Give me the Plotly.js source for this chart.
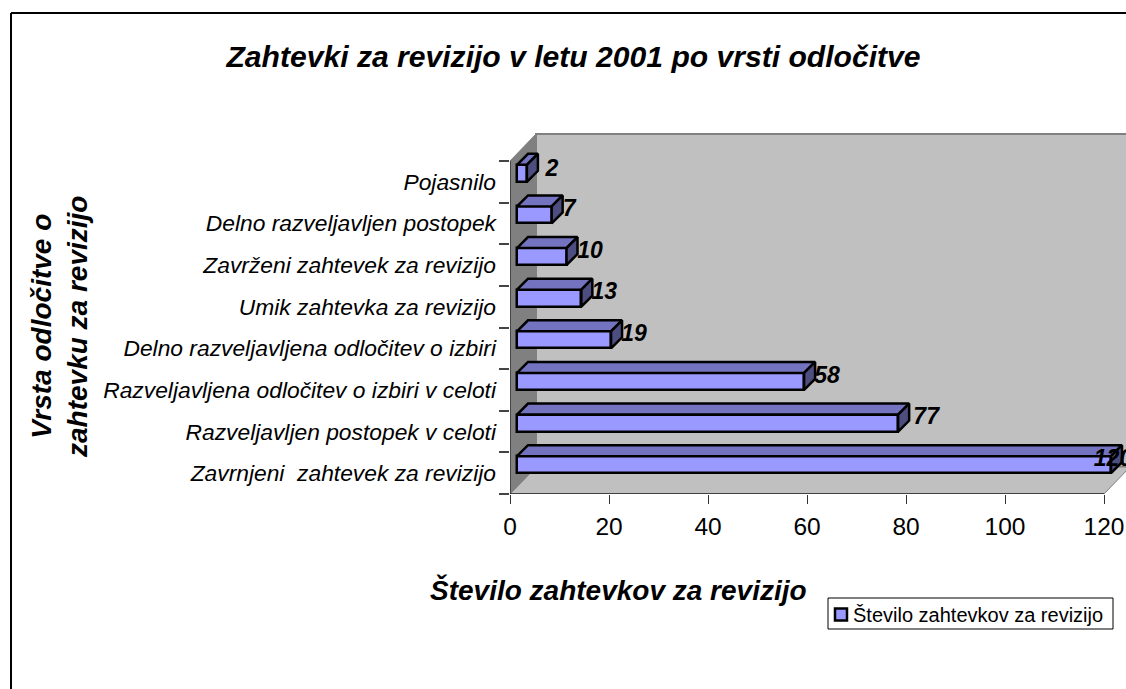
<!DOCTYPE html>
<html><head><meta charset="utf-8">
<script src="https://cdn.plot.ly/plotly-3.0.1.min.js"></script>
<style>html,body{margin:0;padding:0;background:#fff;overflow:hidden}</style>
</head><body><div id="chart" style="width:1126px;height:689px"></div>
<script>
const categories = ["Zavrnjeni\u00A0 zahtevek za revizijo","Razveljavljen postopek v celoti","Razveljavljena odločitev o izbiri v celoti","Delno razveljavljena odločitev o izbiri","Umik zahtevka za revizijo","Zavrženi zahtevek za revizijo","Delno razveljavljen postopek","Pojasnilo"];
const values = [120,77,58,19,13,10,7,2];
const seriesName = "Število zahtevkov za revizijo";
const xTicks = [0,20,40,60,80,100,120];
const labelShift = [2,28,23,23,23,23.5,17.5,25]; // label centre, px right of the bar's front end

const W=1126,H=689,L=510,R=1126,T=100,B=494;
const pxX=4.95, pxY=41.625;
const px=x=>(x-L)/(R-L), py=y=>(B-y)/(B-T);
const base=7/pxX, h=17/pxY, dx=11/pxX, dy=11/pxY, wallX=26/pxX, wallY=27/pxY;
const idx=categories.map((_,i)=>i);
const xMax=120;

const topX=[],topY=[],sideX=[],sideY=[];
values.forEach((v,i)=>{
  topX.push(base,base+dx,base+v+dx,base+v,base,null);
  topY.push(i+h,i+h+dy,i+h+dy,i+h,i+h,null);
  sideX.push(base+v,base+v+dx,base+v+dx,base+v,base+v,null);
  sideY.push(i,i+dy,i+h+dy,i+h,i,null);
});
const line={color:'#000',width:2.5};
const font='"Liberation Sans", Arial, sans-serif';
const traces=[
 {type:'bar',orientation:'h',name:seriesName,x:values,y:idx,base:base,width:h,offset:0,
  marker:{color:'#9999FF',line:{color:'#000',width:2.5}},hoverinfo:'x+y',showlegend:true},
 {type:'scatter',mode:'lines',x:topX,y:topY,fill:'toself',fillcolor:'#7373BF',line,hoverinfo:'skip',showlegend:false,cliponaxis:false},
 {type:'scatter',mode:'lines',x:sideX,y:sideY,fill:'toself',fillcolor:'#4D4D80',line,hoverinfo:'skip',showlegend:false,cliponaxis:false},
 {type:'scatter',mode:'text',x:values.map((v,i)=>base+v+labelShift[i]/pxX),y:idx.map(i=>i+(i===7?12:13)/pxY),text:values.map(String),
  textposition:'middle center',textfont:{family:font,size:23,color:'#000',weight:700,style:'italic'},hoverinfo:'skip',showlegend:false,cliponaxis:false}
];
const yTop=7.5, yBot=-0.5;
const pathOf=pts=>'M'+pts.map(p=>p[0]+','+p[1]).join('L')+'Z';
const shapes=[
 {type:'path',layer:'below',path:pathOf([[wallX,yBot+wallY],[wallX,yTop+wallY],[xMax+wallX,yTop+wallY],[xMax+wallX,yBot+wallY]]),fillcolor:'#C0C0C0',line:{width:2,color:'#808080'}},
 {type:'path',layer:'below',path:pathOf([[0,yBot],[wallX,yBot+wallY],[xMax+wallX,yBot+wallY],[xMax,yBot]]),fillcolor:'#C0C0C0',line:{width:1,color:'#808080'}},
 {type:'path',layer:'below',path:pathOf([[0,yBot],[0,yTop],[wallX,yTop+wallY],[wallX,yBot+wallY]]),fillcolor:'#808080',line:{width:1,color:'#808080'}},
 {type:'line',layer:'below',x0:0,x1:0,y0:yBot,y1:yTop,line:{color:'#333',width:1.5}},
 {type:'line',layer:'below',x0:0,x1:xMax,y0:yBot,y1:yBot,line:{color:'#222',width:1.5}},
 {type:'line',xref:'paper',yref:'paper',x0:px(11),x1:px(11),y0:py(13),y1:py(700),line:{color:'#000',width:2}},
 {type:'line',xref:'paper',yref:'paper',x0:px(11),x1:px(1130),y0:py(13),y1:py(13),line:{color:'#000',width:2}},
 {type:'rect',xref:'paper',yref:'paper',x0:px(828),x1:px(1113),y0:py(598),y1:py(629),line:{color:'#000',width:1},fillcolor:'#fff',layer:'below'}
];
const titleFont={family:font,size:28,color:'#000',weight:700,style:'italic'};
const layout={
 width:W,height:H,paper_bgcolor:'#fff',plot_bgcolor:'rgba(0,0,0,0)',
 margin:{l:L,r:W-R,t:T,b:H-B,pad:0},
 bargap:0,
 title:{text:"Zahtevki za revizijo v letu 2001 po vrsti odločitve",font:{family:font,size:30.1,color:'#000',weight:700,style:'italic'},x:573.5/W,xanchor:'center',y:1-56/H,yanchor:'middle'},
 xaxis:{range:[0,(R-L)/pxX],tickmode:'array',tickvals:xTicks,ticktext:xTicks.map(String),ticks:'outside',ticklen:9,tickcolor:'#333',tickwidth:1,ticklabelstandoff:2,
   showgrid:false,zeroline:false,showline:false,tickfont:{family:font,size:24.5,color:'#000'},fixedrange:true},
 yaxis:{range:[yBot,yBot+(B-T)/pxY],tickmode:'array',tickvals:idx,ticktext:categories,ticks:'',ticklen:0,ticklabelstandoff:13,
   showgrid:false,zeroline:false,showline:false,tickfont:{family:font,size:22.8,color:'#000',style:'italic'},fixedrange:true,
   minor:{ticks:'outside',ticklen:10,tickcolor:'#444',tickwidth:1.5,tickmode:'array',tickvals:idx.map(i=>i-0.5).concat([7.5]),showgrid:false}},
 shapes,
 annotations:[
  {xref:'paper',yref:'paper',x:px(618),y:py(590),text:seriesName,showarrow:false,xanchor:'center',yanchor:'middle',font:titleFont},
  {xref:'paper',yref:'paper',x:px(59),y:py(327),text:"Vrsta odločitve o<br>zahtevku za revizijo",showarrow:false,textangle:-90,xanchor:'center',yanchor:'middle',font:titleFont}
 ],
 legend:{x:px(813),y:py(614.5),xanchor:'left',yanchor:'middle',bgcolor:'rgba(0,0,0,0)',borderwidth:0,font:{family:font,size:20,color:'#000'}},
 showlegend:true
};
Plotly.newPlot('chart',traces,layout,{displayModeBar:false,responsive:false}).then(()=>{
 const s=document.querySelector('.legend .legendsymbols');
 if(s) s.setAttribute('transform','translate(8,0)');
});
</script></body></html>
